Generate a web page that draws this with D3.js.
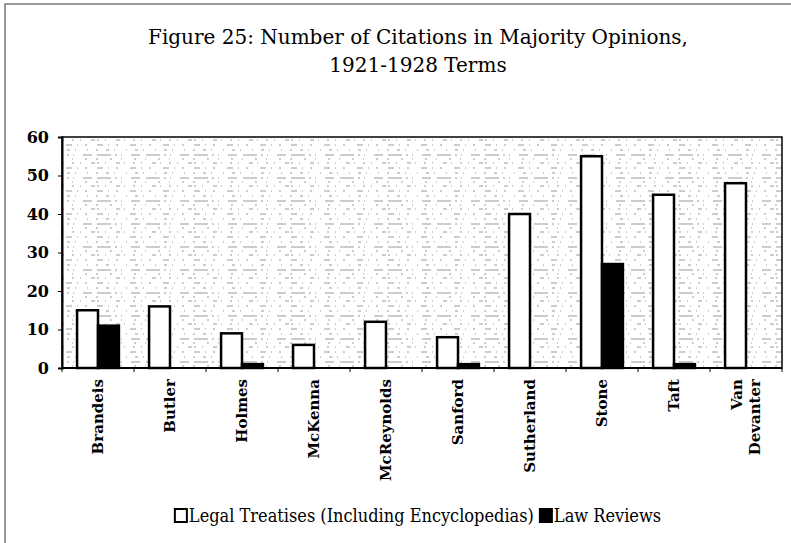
<!DOCTYPE html>
<html>
<head>
<meta charset="utf-8">
<script src="https://cdn.jsdelivr.net/npm/d3@7"></script>
<style>
body { margin: 0; background: #fff; }
svg { display: block; }
</style>
</head>
<body>
<div id="chart"></div>
<script>
///data
const justices = ["Brandeis", "Butler", "Holmes", "McKenna", "McReynolds",
  "Sanford", "Sutherland", "Stone", "Taft", "Van Devanter"];
const seriesNames = ["Legal Treatises (Including Encyclopedias)", "Law Reviews"];
const treatises = [15, 16, 9, 6, 12, 8, 40, 55, 45, 48];
const lawReviews = [11, 0, 1, 0, 0, 1, 0, 27, 1, 0];
const yTicks = [0, 10, 20, 30, 40, 50, 60];

///vars
let w = 791,
  h = 543,
  padL = 62, padR = 782, padT = 137, padB = 368;
const serif = "'DejaVu Serif', 'Liberation Serif', serif";
const fills = ["#fff", "#000"];

let svg = d3.select("#chart").append("svg")
  .attr("width", w)
  .attr("height", h);

///frame round the figure
svg.append("rect")
  .attr("x", 5).attr("y", 4)
  .attr("width", 830).attr("height", 600)
  .attr("fill", "none")
  .attr("stroke", "#555")
  .attr("stroke-width", 1.2);

///title
const mid = 418;
svg.append("text")
  .attr("x", mid).attr("y", 44)
  .attr("text-anchor", "middle")
  .style("font-family", serif)
  .style("font-size", "20px")
  .text("Figure 25: Number of Citations in Majority Opinions,");
svg.append("text")
  .attr("x", mid).attr("y", 72)
  .attr("text-anchor", "middle")
  .style("font-family", serif)
  .style("font-size", "20px")
  .text("1921-1928 Terms");

///scales
const x0 = d3.scaleBand().domain(justices).range([padL, padR]).padding(0);
const x1 = d3.scaleBand().domain(seriesNames).range([0, x0.bandwidth()])
  .paddingInner(0).paddingOuter(0.72);
const y = d3.scaleLinear().domain([0, 60]).range([padB, padT]);

///speckled plot background (scanned grey)
const defs = svg.append("defs");
const pat = defs.append("pattern")
  .attr("id", "speck")
  .attr("patternUnits", "userSpaceOnUse")
  .attr("width", 97).attr("height", 23);
pat.append("rect").attr("width", 97).attr("height", 23).attr("fill", "#fff");
[[2, "2 6 1 10 4 4 1 8"], [7, "6 5 1 7 2 12"], [12, "1 8 3 5 1 11"], [17, "14 4 2 4 1 9 9 6"], [21, "1 12 2 9"]]
  .forEach(r => {
    pat.append("line")
      .attr("x1", 0).attr("x2", 97)
      .attr("y1", r[0]).attr("y2", r[0])
      .attr("stroke", "#999")
      .attr("stroke-width", 1)
      .attr("stroke-dasharray", r[1]);
  });

svg.append("rect")
  .attr("x", padL).attr("y", padT)
  .attr("width", padR - padL).attr("height", padB - padT)
  .attr("fill", "url(#speck)")
  .attr("stroke", "#000")
  .attr("stroke-width", 1.5);

///bars
const rows = justices.map((j, i) => ({ name: j, vals: [treatises[i], lawReviews[i]] }));
const groups = svg.append("g").selectAll("g")
  .data(rows)
  .join("g")
  .attr("transform", d => "translate(" + x0(d.name) + ",0)");
groups.selectAll("rect")
  .data(d => d.vals.map((v, k) => ({ key: seriesNames[k], v: v, k: k })))
  .join("rect")
  .attr("x", d => x1(d.key))
  .attr("y", d => y(d.v))
  .attr("width", x1.bandwidth())
  .attr("height", d => y(0) - y(d.v))
  .attr("fill", d => fills[d.k])
  .attr("stroke", "#000")
  .attr("stroke-width", 2.5);

///y axis
const yAxis = svg.append("g")
  .attr("transform", "translate(" + padL + ",0)")
  .call(d3.axisLeft(y).tickValues(yTicks).tickSize(4).tickPadding(9));
yAxis.select(".domain").attr("stroke-width", 2);
yAxis.selectAll("text")
  .style("font-family", serif)
  .style("font-size", "16px")
  .style("font-weight", "bold")
  .attr("fill", "#000");

///x axis: ticks at category boundaries
const xAxis = svg.append("g")
  .attr("transform", "translate(0," + padB + ")");
xAxis.append("line")
  .attr("x1", padL).attr("x2", padR)
  .attr("stroke", "#000").attr("stroke-width", 2);
xAxis.selectAll(".tick")
  .data(justices.concat(["end"]))
  .join("line")
  .attr("x1", (d, i) => i < justices.length ? x0(d) : padR)
  .attr("x2", (d, i) => i < justices.length ? x0(d) : padR)
  .attr("y1", 0).attr("y2", 4)
  .attr("stroke", "#000");

xAxis.selectAll(".lab")
  .data(justices)
  .join("text")
  .attr("class", "lab")
  .attr("transform", d => "translate(" + (x0(d) + x0.bandwidth() / 2) + ",11) rotate(-90)")
  .attr("text-anchor", "end")
  .style("font-family", serif)
  .style("font-size", "15px")
  .style("font-weight", "bold")
  .each(function(d) {
    const parts = d === "Van Devanter" ? ["Van", "Devanter"] : [d];
    const t = d3.select(this);
    parts.forEach((p, i) => {
      t.append("tspan")
        .attr("x", 0)
        .attr("dy", i === 0 ? (parts.length === 1 ? "0.35em" : "-0.25em") : "1.2em")
        .text(p);
    });
  });

///legend, centred under the plot
const legY = 522;
const legend = svg.append("g");
let lx = 0;
seriesNames.forEach((s, k) => {
  legend.append("rect")
    .attr("x", lx).attr("y", -13)
    .attr("width", 12).attr("height", 13)
    .attr("fill", fills[k])
    .attr("stroke", "#000")
    .attr("stroke-width", 2);
  const t = legend.append("text")
    .attr("x", lx + 14).attr("y", 0)
    .style("font-family", "'DejaVu Serif Condensed', 'DejaVu Serif', serif")
    .style("font-size", "18px")
    .text(s);
  lx += 14 + t.node().getComputedTextLength() + 6;
});
legend.attr("transform", "translate(" + (mid - (lx - 6) / 2) + "," + legY + ")");
</script>
</body>
</html>
